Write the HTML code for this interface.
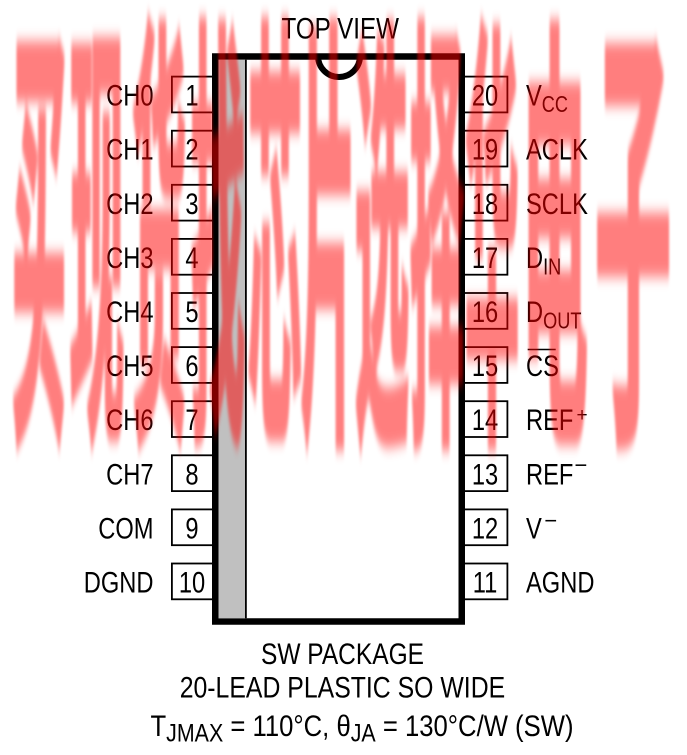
<!DOCTYPE html>
<html>
<head>
<meta charset="utf-8">
<style>
  html,body{margin:0;padding:0;background:#fff;}
  .wrap{position:relative;width:687px;height:755px;overflow:hidden;background:#fff;}
  .wrap svg{position:absolute;left:0;top:0;}
  .wm{opacity:0.5;}
</style>
</head>
<body>
<div class="wrap">
<svg width="687" height="755" viewBox="0 0 687 755" font-family="'Liberation Sans', Arial, sans-serif" fill="#000">
  <rect width="687" height="755" fill="#fff"/>

  <!-- pin boxes left -->
  <g fill="#fff" stroke="#000" stroke-width="1.8">
    <rect x="171.9" y="76.6" width="42" height="35.8"/>
    <rect x="171.9" y="130.7" width="42" height="35.8"/>
    <rect x="171.9" y="184.8" width="42" height="35.8"/>
    <rect x="171.9" y="238.9" width="42" height="35.8"/>
    <rect x="171.9" y="293.0" width="42" height="35.8"/>
    <rect x="171.9" y="347.1" width="42" height="35.8"/>
    <rect x="171.9" y="401.2" width="42" height="35.8"/>
    <rect x="171.9" y="455.3" width="42" height="35.8"/>
    <rect x="171.9" y="509.4" width="42" height="35.8"/>
    <rect x="171.9" y="563.5" width="42" height="35.8"/>
  </g>
  <!-- pin boxes right -->
  <g fill="#fff" stroke="#000" stroke-width="1.8">
    <rect x="461" y="76.6" width="46.4" height="35.8"/>
    <rect x="461" y="130.7" width="46.4" height="35.8"/>
    <rect x="461" y="184.8" width="46.4" height="35.8"/>
    <rect x="461" y="238.9" width="46.4" height="35.8"/>
    <rect x="461" y="293.0" width="46.4" height="35.8"/>
    <rect x="461" y="347.1" width="46.4" height="35.8"/>
    <rect x="461" y="401.2" width="46.4" height="35.8"/>
    <rect x="461" y="455.3" width="46.4" height="35.8"/>
    <rect x="461" y="509.4" width="46.4" height="35.8"/>
    <rect x="461" y="563.5" width="46.4" height="35.8"/>
  </g>

  <!-- chip body -->
  <rect x="215.25" y="56.5" width="246.5" height="565" fill="#fff" stroke="#000" stroke-width="6.5"/>
  <rect x="218.5" y="59.75" width="26.5" height="558.5" fill="#c0c0c0"/>
  <line x1="245.9" y1="59.75" x2="245.9" y2="618.25" stroke="#000" stroke-width="1.8"/>
  <path d="M318,56 A21,21 0 0 0 360,56" fill="none" stroke="#000" stroke-width="6"/>

  <!-- TOP VIEW -->
  <text x="281.5" y="38.3" font-size="30" textLength="117.5" lengthAdjust="spacingAndGlyphs">TOP VIEW</text>

  <!-- left labels -->
  <g font-size="30" text-anchor="end">
    <text transform="translate(153.5,105.6) scale(0.79,1)">CH0</text>
    <text transform="translate(153.5,159.7) scale(0.79,1)">CH1</text>
    <text transform="translate(153.5,213.8) scale(0.79,1)">CH2</text>
    <text transform="translate(153.5,267.9) scale(0.79,1)">CH3</text>
    <text transform="translate(153.5,322.0) scale(0.79,1)">CH4</text>
    <text transform="translate(153.5,376.1) scale(0.79,1)">CH5</text>
    <text transform="translate(153.5,430.2) scale(0.79,1)">CH6</text>
    <text transform="translate(153.5,484.3) scale(0.79,1)">CH7</text>
    <text transform="translate(153.5,538.4) scale(0.79,1)">COM</text>
    <text transform="translate(153.5,592.5) scale(0.79,1)">DGND</text>
  </g>

  <!-- left pin numbers -->
  <g font-size="30" text-anchor="middle">
    <text transform="translate(192,105.6) scale(0.79,1)">1</text>
    <text transform="translate(192,159.7) scale(0.79,1)">2</text>
    <text transform="translate(192,213.8) scale(0.79,1)">3</text>
    <text transform="translate(192,267.9) scale(0.79,1)">4</text>
    <text transform="translate(192,322.0) scale(0.79,1)">5</text>
    <text transform="translate(192,376.1) scale(0.79,1)">6</text>
    <text transform="translate(192,430.2) scale(0.79,1)">7</text>
    <text transform="translate(192,484.3) scale(0.79,1)">8</text>
    <text transform="translate(192,538.4) scale(0.79,1)">9</text>
    <text transform="translate(192,592.5) scale(0.79,1)">10</text>
  </g>

  <!-- right pin numbers -->
  <g font-size="30" text-anchor="middle">
    <text transform="translate(485,105.6) scale(0.79,1)">20</text>
    <text transform="translate(485,159.7) scale(0.79,1)">19</text>
    <text transform="translate(485,213.8) scale(0.79,1)">18</text>
    <text transform="translate(485,267.9) scale(0.79,1)">17</text>
    <text transform="translate(485,322.0) scale(0.79,1)">16</text>
    <text transform="translate(485,376.1) scale(0.79,1)">15</text>
    <text transform="translate(485,430.2) scale(0.79,1)">14</text>
    <text transform="translate(485,484.3) scale(0.79,1)">13</text>
    <text transform="translate(485,538.4) scale(0.79,1)">12</text>
    <text transform="translate(485,592.5) scale(0.79,1)">11</text>
  </g>

  <!-- right labels -->
  <g font-size="30">
    <text transform="translate(526,105.6) scale(0.79,1)">V<tspan font-size="23" dy="6.6">CC</tspan></text>
    <text transform="translate(526,159.7) scale(0.79,1)">ACLK</text>
    <text transform="translate(526,213.8) scale(0.79,1)">SCLK</text>
    <text transform="translate(526,267.9) scale(0.79,1)">D<tspan font-size="23" dy="6.6">IN</tspan></text>
    <text transform="translate(526,322.0) scale(0.79,1)">D<tspan font-size="23" dy="6.6">OUT</tspan></text>
    <text transform="translate(526,376.1) scale(0.79,1)">CS</text>
    <text transform="translate(526,430.2) scale(0.79,1)">REF</text>
    <text transform="translate(526,484.3) scale(0.79,1)">REF</text>
    <text transform="translate(526,538.4) scale(0.79,1)">V</text>
    <text transform="translate(526,592.5) scale(0.79,1)">AGND</text>
  </g>
  <line x1="527.7" y1="349.5" x2="555.7" y2="349.5" stroke="#000" stroke-width="1.6"/>
  <text x="576.5" y="421" font-size="19">+</text>
  <text x="574.5" y="472.3" font-size="22">−</text>
  <text x="544.4" y="527.8" font-size="22">−</text>

  <!-- bottom captions -->
  <text x="261" y="664" font-size="30" textLength="163" lengthAdjust="spacingAndGlyphs">SW PACKAGE</text>
  <text x="179.7" y="697.3" font-size="30" textLength="325.5" lengthAdjust="spacingAndGlyphs">20-LEAD PLASTIC SO WIDE</text>
  <text x="150.5" y="736" font-size="30" textLength="423" lengthAdjust="spacingAndGlyphs">T<tspan font-size="25" dy="5.7">JMAX</tspan><tspan dy="-5.7"> = 110°C, θ</tspan><tspan font-size="25" dy="5.7">JA</tspan><tspan dy="-5.7"> = 130°C/W (SW)</tspan></text>
</svg>

<!-- watermark overlay (semi-transparent red) -->
<svg class="wm" width="687" height="755" viewBox="0 0 687 755">
  <defs>
    <filter id="blur" x="-30%" y="-30%" width="160%" height="160%">
      <feGaussianBlur stdDeviation="1.0 0.8"/>
    </filter>
  </defs>
  <g transform="translate(0,405) scale(1,8.2)" filter="url(#blur)"
     font-family="'Noto Sans CJK SC', 'WenQuanYi Zen Hei', sans-serif" font-weight="700"
     font-size="55" fill="#ff0000" stroke="#ff0000" stroke-width="1.2" stroke-linejoin="round" text-anchor="middle">
    <text x="39" y="0">买</text>
    <text x="97" y="0">现</text>
    <text x="159" y="0">货</text>
    <text x="218" y="0">找</text>
    <text x="275" y="0">芯</text>
    <text x="328" y="0">片</text>
    <text x="382" y="0">选</text>
    <text x="437" y="0">择</text>
    <text x="492" y="0">华</text>
    <text transform="translate(555,0) scale(1.2,1)">电</text>
    <text transform="translate(633,0) scale(1.4,1)">子</text>
  </g>
</svg>
</div>
</body>
</html>
